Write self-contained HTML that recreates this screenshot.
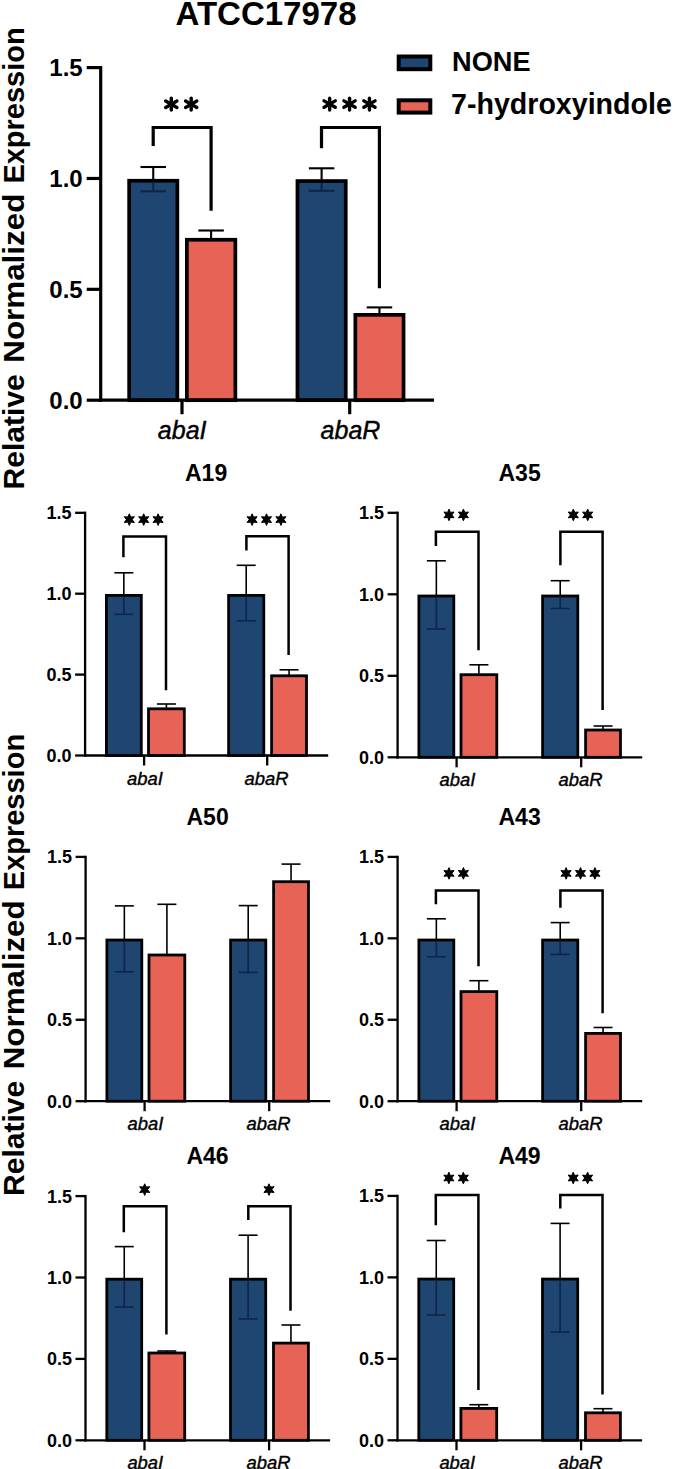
<!DOCTYPE html>
<html><head><meta charset="utf-8"><style>
html,body{margin:0;padding:0;background:#fff;}
body{width:674px;height:1469px;overflow:hidden;}
svg{display:block;font-family:"Liberation Sans",sans-serif;}
</style></head><body>
<svg width="674" height="1469" viewBox="0 0 674 1469">
<rect width="674" height="1469" fill="#fff"/>
<rect x="129.15" y="180.75" width="48.20" height="219.45" fill="#1f4571" stroke="#000" stroke-width="3.7"/>
<line x1="153.25" y1="182.60" x2="153.25" y2="191.30" stroke="#0f2548" stroke-width="2.1" stroke-linecap="butt"/>
<line x1="140.50" y1="191.30" x2="166.00" y2="191.30" stroke="#0f2548" stroke-width="2.1" stroke-linecap="butt"/>
<line x1="153.25" y1="167.00" x2="153.25" y2="179.40" stroke="#000" stroke-width="2.1" stroke-linecap="butt"/>
<line x1="140.50" y1="167.00" x2="166.00" y2="167.00" stroke="#000" stroke-width="2.1" stroke-linecap="butt"/>
<rect x="186.85" y="239.75" width="48.50" height="160.45" fill="#e66355" stroke="#000" stroke-width="3.7"/>
<line x1="211.10" y1="230.50" x2="211.10" y2="238.40" stroke="#000" stroke-width="2.1" stroke-linecap="butt"/>
<line x1="198.35" y1="230.50" x2="223.85" y2="230.50" stroke="#000" stroke-width="2.1" stroke-linecap="butt"/>
<rect x="297.45" y="181.05" width="48.30" height="219.15" fill="#1f4571" stroke="#000" stroke-width="3.7"/>
<line x1="321.60" y1="182.90" x2="321.60" y2="190.80" stroke="#0f2548" stroke-width="2.1" stroke-linecap="butt"/>
<line x1="308.85" y1="190.80" x2="334.35" y2="190.80" stroke="#0f2548" stroke-width="2.1" stroke-linecap="butt"/>
<line x1="321.60" y1="168.30" x2="321.60" y2="179.70" stroke="#000" stroke-width="2.1" stroke-linecap="butt"/>
<line x1="308.85" y1="168.30" x2="334.35" y2="168.30" stroke="#000" stroke-width="2.1" stroke-linecap="butt"/>
<rect x="355.35" y="314.85" width="48.20" height="85.35" fill="#e66355" stroke="#000" stroke-width="3.7"/>
<line x1="379.45" y1="307.40" x2="379.45" y2="313.50" stroke="#000" stroke-width="2.1" stroke-linecap="butt"/>
<line x1="366.70" y1="307.40" x2="392.20" y2="307.40" stroke="#000" stroke-width="2.1" stroke-linecap="butt"/>
<line x1="100.70" y1="66.00" x2="100.70" y2="401.80" stroke="#000" stroke-width="3.2" stroke-linecap="butt"/>
<line x1="99.10" y1="400.20" x2="434.00" y2="400.20" stroke="#000" stroke-width="3.2" stroke-linecap="butt"/>
<line x1="86.70" y1="400.20" x2="100.70" y2="400.20" stroke="#000" stroke-width="3.2" stroke-linecap="butt"/>
<text x="82.70" y="408.84" font-size="24" text-anchor="end" font-weight="bold" font-style="normal" >0.0</text>
<line x1="86.70" y1="289.33" x2="100.70" y2="289.33" stroke="#000" stroke-width="3.2" stroke-linecap="butt"/>
<text x="82.70" y="297.97" font-size="24" text-anchor="end" font-weight="bold" font-style="normal" >0.5</text>
<line x1="86.70" y1="178.47" x2="100.70" y2="178.47" stroke="#000" stroke-width="3.2" stroke-linecap="butt"/>
<text x="82.70" y="187.11" font-size="24" text-anchor="end" font-weight="bold" font-style="normal" >1.0</text>
<line x1="86.70" y1="67.60" x2="100.70" y2="67.60" stroke="#000" stroke-width="3.2" stroke-linecap="butt"/>
<text x="82.70" y="76.24" font-size="24" text-anchor="end" font-weight="bold" font-style="normal" >1.5</text>
<line x1="182.00" y1="400.20" x2="182.00" y2="414.20" stroke="#000" stroke-width="3.2" stroke-linecap="butt"/>
<line x1="349.70" y1="400.20" x2="349.70" y2="414.20" stroke="#000" stroke-width="3.2" stroke-linecap="butt"/>
<text x="182.20" y="439.00" font-size="25" text-anchor="middle" font-weight="normal" font-style="italic" stroke="#000" stroke-width="0.4">abaI</text>
<text x="350.50" y="439.00" font-size="25" text-anchor="middle" font-weight="normal" font-style="italic" stroke="#000" stroke-width="0.4">abaR</text>
<polyline points="153.20,146.00 153.20,127.50 211.10,127.50 211.10,210.80" fill="none" stroke="#000" stroke-width="3.2" stroke-linejoin="miter" stroke-linecap="butt"/>
<line x1="171.30" y1="98.30" x2="171.30" y2="110.10" stroke="#000" stroke-width="3.4" stroke-linecap="round"/>
<line x1="165.68" y1="100.95" x2="176.92" y2="107.45" stroke="#000" stroke-width="3.4" stroke-linecap="round"/>
<line x1="165.68" y1="107.45" x2="176.92" y2="100.95" stroke="#000" stroke-width="3.4" stroke-linecap="round"/>
<line x1="191.20" y1="98.30" x2="191.20" y2="110.10" stroke="#000" stroke-width="3.4" stroke-linecap="round"/>
<line x1="185.58" y1="100.95" x2="196.82" y2="107.45" stroke="#000" stroke-width="3.4" stroke-linecap="round"/>
<line x1="185.58" y1="107.45" x2="196.82" y2="100.95" stroke="#000" stroke-width="3.4" stroke-linecap="round"/>
<polyline points="321.50,148.20 321.50,127.50 379.40,127.50 379.40,288.20" fill="none" stroke="#000" stroke-width="3.2" stroke-linejoin="miter" stroke-linecap="butt"/>
<line x1="329.65" y1="98.20" x2="329.65" y2="110.00" stroke="#000" stroke-width="3.4" stroke-linecap="round"/>
<line x1="324.03" y1="100.85" x2="335.27" y2="107.34" stroke="#000" stroke-width="3.4" stroke-linecap="round"/>
<line x1="324.03" y1="107.34" x2="335.27" y2="100.85" stroke="#000" stroke-width="3.4" stroke-linecap="round"/>
<line x1="349.55" y1="98.20" x2="349.55" y2="110.00" stroke="#000" stroke-width="3.4" stroke-linecap="round"/>
<line x1="343.93" y1="100.85" x2="355.17" y2="107.34" stroke="#000" stroke-width="3.4" stroke-linecap="round"/>
<line x1="343.93" y1="107.34" x2="355.17" y2="100.85" stroke="#000" stroke-width="3.4" stroke-linecap="round"/>
<line x1="369.45" y1="98.20" x2="369.45" y2="110.00" stroke="#000" stroke-width="3.4" stroke-linecap="round"/>
<line x1="363.83" y1="100.85" x2="375.07" y2="107.34" stroke="#000" stroke-width="3.4" stroke-linecap="round"/>
<line x1="363.83" y1="107.34" x2="375.07" y2="100.85" stroke="#000" stroke-width="3.4" stroke-linecap="round"/>
<rect x="106.40" y="595.40" width="34.90" height="160.10" fill="#1f4571" stroke="#000" stroke-width="2.8"/>
<line x1="123.85" y1="596.80" x2="123.85" y2="614.30" stroke="#0f2548" stroke-width="1.6" stroke-linecap="butt"/>
<line x1="114.35" y1="614.30" x2="133.35" y2="614.30" stroke="#0f2548" stroke-width="1.6" stroke-linecap="butt"/>
<line x1="123.85" y1="572.80" x2="123.85" y2="594.50" stroke="#000" stroke-width="1.6" stroke-linecap="butt"/>
<line x1="114.35" y1="572.80" x2="133.35" y2="572.80" stroke="#000" stroke-width="1.6" stroke-linecap="butt"/>
<rect x="148.50" y="708.80" width="35.80" height="46.70" fill="#e66355" stroke="#000" stroke-width="2.8"/>
<line x1="166.40" y1="704.00" x2="166.40" y2="707.90" stroke="#000" stroke-width="1.6" stroke-linecap="butt"/>
<line x1="156.90" y1="704.00" x2="175.90" y2="704.00" stroke="#000" stroke-width="1.6" stroke-linecap="butt"/>
<rect x="228.60" y="595.40" width="35.20" height="160.10" fill="#1f4571" stroke="#000" stroke-width="2.8"/>
<line x1="246.20" y1="596.80" x2="246.20" y2="620.80" stroke="#0f2548" stroke-width="1.6" stroke-linecap="butt"/>
<line x1="236.70" y1="620.80" x2="255.70" y2="620.80" stroke="#0f2548" stroke-width="1.6" stroke-linecap="butt"/>
<line x1="246.20" y1="565.30" x2="246.20" y2="594.50" stroke="#000" stroke-width="1.6" stroke-linecap="butt"/>
<line x1="236.70" y1="565.30" x2="255.70" y2="565.30" stroke="#000" stroke-width="1.6" stroke-linecap="butt"/>
<rect x="271.60" y="675.80" width="34.90" height="79.70" fill="#e66355" stroke="#000" stroke-width="2.8"/>
<line x1="289.05" y1="669.80" x2="289.05" y2="674.90" stroke="#000" stroke-width="1.6" stroke-linecap="butt"/>
<line x1="279.55" y1="669.80" x2="298.55" y2="669.80" stroke="#000" stroke-width="1.6" stroke-linecap="butt"/>
<line x1="85.10" y1="511.65" x2="85.10" y2="756.65" stroke="#000" stroke-width="2.3" stroke-linecap="butt"/>
<line x1="83.95" y1="755.50" x2="328.20" y2="755.50" stroke="#000" stroke-width="2.3" stroke-linecap="butt"/>
<line x1="75.10" y1="755.50" x2="85.10" y2="755.50" stroke="#000" stroke-width="2.3" stroke-linecap="butt"/>
<text x="71.60" y="761.98" font-size="18" text-anchor="end" font-weight="bold" font-style="normal" >0.0</text>
<line x1="75.10" y1="674.60" x2="85.10" y2="674.60" stroke="#000" stroke-width="2.3" stroke-linecap="butt"/>
<text x="71.60" y="681.08" font-size="18" text-anchor="end" font-weight="bold" font-style="normal" >0.5</text>
<line x1="75.10" y1="593.70" x2="85.10" y2="593.70" stroke="#000" stroke-width="2.3" stroke-linecap="butt"/>
<text x="71.60" y="600.18" font-size="18" text-anchor="end" font-weight="bold" font-style="normal" >1.0</text>
<line x1="75.10" y1="512.80" x2="85.10" y2="512.80" stroke="#000" stroke-width="2.3" stroke-linecap="butt"/>
<text x="71.60" y="519.28" font-size="18" text-anchor="end" font-weight="bold" font-style="normal" >1.5</text>
<line x1="144.10" y1="755.50" x2="144.10" y2="765.50" stroke="#000" stroke-width="2.3" stroke-linecap="butt"/>
<line x1="267.20" y1="755.50" x2="267.20" y2="765.50" stroke="#000" stroke-width="2.3" stroke-linecap="butt"/>
<text x="144.90" y="784.50" font-size="18.4" text-anchor="middle" font-weight="normal" font-style="italic" stroke="#000" stroke-width="0.4">abaI</text>
<text x="266.60" y="784.50" font-size="18.4" text-anchor="middle" font-weight="normal" font-style="italic" stroke="#000" stroke-width="0.4">abaR</text>
<polyline points="123.40,557.20 123.40,536.50 166.00,536.50 166.00,690.30" fill="none" stroke="#000" stroke-width="2.5" stroke-linejoin="miter" stroke-linecap="butt"/>
<polygon points="129.30,513.80 127.85,517.09 124.28,516.70 126.40,519.60 124.28,522.50 127.85,522.11 129.30,525.40 130.75,522.11 134.32,522.50 132.20,519.60 134.32,516.70 130.75,517.09" fill="#000" stroke="#000" stroke-width="1.0" stroke-linejoin="round"/>
<polygon points="143.70,513.80 142.25,517.09 138.68,516.70 140.80,519.60 138.68,522.50 142.25,522.11 143.70,525.40 145.15,522.11 148.72,522.50 146.60,519.60 148.72,516.70 145.15,517.09" fill="#000" stroke="#000" stroke-width="1.0" stroke-linejoin="round"/>
<polygon points="158.10,513.80 156.65,517.09 153.08,516.70 155.20,519.60 153.08,522.50 156.65,522.11 158.10,525.40 159.55,522.11 163.12,522.50 161.00,519.60 163.12,516.70 159.55,517.09" fill="#000" stroke="#000" stroke-width="1.0" stroke-linejoin="round"/>
<polyline points="246.40,550.50 246.40,536.30 288.60,536.30 288.60,655.00" fill="none" stroke="#000" stroke-width="2.5" stroke-linejoin="miter" stroke-linecap="butt"/>
<polygon points="252.10,513.80 250.65,517.09 247.08,516.70 249.20,519.60 247.08,522.50 250.65,522.11 252.10,525.40 253.55,522.11 257.12,522.50 255.00,519.60 257.12,516.70 253.55,517.09" fill="#000" stroke="#000" stroke-width="1.0" stroke-linejoin="round"/>
<polygon points="266.50,513.80 265.05,517.09 261.48,516.70 263.60,519.60 261.48,522.50 265.05,522.11 266.50,525.40 267.95,522.11 271.52,522.50 269.40,519.60 271.52,516.70 267.95,517.09" fill="#000" stroke="#000" stroke-width="1.0" stroke-linejoin="round"/>
<polygon points="280.90,513.80 279.45,517.09 275.88,516.70 278.00,519.60 275.88,522.50 279.45,522.11 280.90,525.40 282.35,522.11 285.92,522.50 283.80,519.60 285.92,516.70 282.35,517.09" fill="#000" stroke="#000" stroke-width="1.0" stroke-linejoin="round"/>
<text x="206.10" y="480.80" font-size="23" text-anchor="middle" font-weight="bold" font-style="normal" >A19</text>
<rect x="418.90" y="596.00" width="34.90" height="161.30" fill="#1f4571" stroke="#000" stroke-width="2.8"/>
<line x1="436.35" y1="597.40" x2="436.35" y2="629.00" stroke="#0f2548" stroke-width="1.6" stroke-linecap="butt"/>
<line x1="426.85" y1="629.00" x2="445.85" y2="629.00" stroke="#0f2548" stroke-width="1.6" stroke-linecap="butt"/>
<line x1="436.35" y1="560.80" x2="436.35" y2="595.10" stroke="#000" stroke-width="1.6" stroke-linecap="butt"/>
<line x1="426.85" y1="560.80" x2="445.85" y2="560.80" stroke="#000" stroke-width="1.6" stroke-linecap="butt"/>
<rect x="461.00" y="674.70" width="35.80" height="82.60" fill="#e66355" stroke="#000" stroke-width="2.8"/>
<line x1="478.90" y1="664.80" x2="478.90" y2="673.80" stroke="#000" stroke-width="1.6" stroke-linecap="butt"/>
<line x1="469.40" y1="664.80" x2="488.40" y2="664.80" stroke="#000" stroke-width="1.6" stroke-linecap="butt"/>
<rect x="542.60" y="596.00" width="35.20" height="161.30" fill="#1f4571" stroke="#000" stroke-width="2.8"/>
<line x1="560.20" y1="597.40" x2="560.20" y2="608.50" stroke="#0f2548" stroke-width="1.6" stroke-linecap="butt"/>
<line x1="550.70" y1="608.50" x2="569.70" y2="608.50" stroke="#0f2548" stroke-width="1.6" stroke-linecap="butt"/>
<line x1="560.20" y1="580.70" x2="560.20" y2="595.10" stroke="#000" stroke-width="1.6" stroke-linecap="butt"/>
<line x1="550.70" y1="580.70" x2="569.70" y2="580.70" stroke="#000" stroke-width="1.6" stroke-linecap="butt"/>
<rect x="585.60" y="730.00" width="34.90" height="27.30" fill="#e66355" stroke="#000" stroke-width="2.8"/>
<line x1="603.05" y1="726.00" x2="603.05" y2="729.10" stroke="#000" stroke-width="1.6" stroke-linecap="butt"/>
<line x1="593.55" y1="726.00" x2="612.55" y2="726.00" stroke="#000" stroke-width="1.6" stroke-linecap="butt"/>
<line x1="397.60" y1="511.65" x2="397.60" y2="758.45" stroke="#000" stroke-width="2.3" stroke-linecap="butt"/>
<line x1="396.45" y1="757.30" x2="642.20" y2="757.30" stroke="#000" stroke-width="2.3" stroke-linecap="butt"/>
<line x1="387.60" y1="757.30" x2="397.60" y2="757.30" stroke="#000" stroke-width="2.3" stroke-linecap="butt"/>
<text x="384.10" y="763.78" font-size="18" text-anchor="end" font-weight="bold" font-style="normal" >0.0</text>
<line x1="387.60" y1="675.80" x2="397.60" y2="675.80" stroke="#000" stroke-width="2.3" stroke-linecap="butt"/>
<text x="384.10" y="682.28" font-size="18" text-anchor="end" font-weight="bold" font-style="normal" >0.5</text>
<line x1="387.60" y1="594.30" x2="397.60" y2="594.30" stroke="#000" stroke-width="2.3" stroke-linecap="butt"/>
<text x="384.10" y="600.78" font-size="18" text-anchor="end" font-weight="bold" font-style="normal" >1.0</text>
<line x1="387.60" y1="512.80" x2="397.60" y2="512.80" stroke="#000" stroke-width="2.3" stroke-linecap="butt"/>
<text x="384.10" y="519.28" font-size="18" text-anchor="end" font-weight="bold" font-style="normal" >1.5</text>
<line x1="456.60" y1="757.30" x2="456.60" y2="767.30" stroke="#000" stroke-width="2.3" stroke-linecap="butt"/>
<line x1="581.20" y1="757.30" x2="581.20" y2="767.30" stroke="#000" stroke-width="2.3" stroke-linecap="butt"/>
<text x="457.40" y="786.30" font-size="18.4" text-anchor="middle" font-weight="normal" font-style="italic" stroke="#000" stroke-width="0.4">abaI</text>
<text x="580.60" y="786.30" font-size="18.4" text-anchor="middle" font-weight="normal" font-style="italic" stroke="#000" stroke-width="0.4">abaR</text>
<polyline points="435.90,546.00 435.90,531.80 478.50,531.80 478.50,650.20" fill="none" stroke="#000" stroke-width="2.5" stroke-linejoin="miter" stroke-linecap="butt"/>
<polygon points="449.00,509.10 447.55,512.39 443.98,512.00 446.10,514.90 443.98,517.80 447.55,517.41 449.00,520.70 450.45,517.41 454.02,517.80 451.90,514.90 454.02,512.00 450.45,512.39" fill="#000" stroke="#000" stroke-width="1.0" stroke-linejoin="round"/>
<polygon points="463.40,509.10 461.95,512.39 458.38,512.00 460.50,514.90 458.38,517.80 461.95,517.41 463.40,520.70 464.85,517.41 468.42,517.80 466.30,514.90 468.42,512.00 464.85,512.39" fill="#000" stroke="#000" stroke-width="1.0" stroke-linejoin="round"/>
<polyline points="560.40,565.20 560.40,531.80 602.60,531.80 602.60,710.00" fill="none" stroke="#000" stroke-width="2.5" stroke-linejoin="miter" stroke-linecap="butt"/>
<polygon points="573.30,509.10 571.85,512.39 568.28,512.00 570.40,514.90 568.28,517.80 571.85,517.41 573.30,520.70 574.75,517.41 578.32,517.80 576.20,514.90 578.32,512.00 574.75,512.39" fill="#000" stroke="#000" stroke-width="1.0" stroke-linejoin="round"/>
<polygon points="587.70,509.10 586.25,512.39 582.68,512.00 584.80,514.90 582.68,517.80 586.25,517.41 587.70,520.70 589.15,517.41 592.72,517.80 590.60,514.90 592.72,512.00 589.15,512.39" fill="#000" stroke="#000" stroke-width="1.0" stroke-linejoin="round"/>
<text x="519.60" y="480.80" font-size="23" text-anchor="middle" font-weight="bold" font-style="normal" >A35</text>
<rect x="106.90" y="940.03" width="34.90" height="161.17" fill="#1f4571" stroke="#000" stroke-width="2.8"/>
<line x1="124.35" y1="941.43" x2="124.35" y2="971.80" stroke="#0f2548" stroke-width="1.6" stroke-linecap="butt"/>
<line x1="114.85" y1="971.80" x2="133.85" y2="971.80" stroke="#0f2548" stroke-width="1.6" stroke-linecap="butt"/>
<line x1="124.35" y1="905.90" x2="124.35" y2="939.13" stroke="#000" stroke-width="1.6" stroke-linecap="butt"/>
<line x1="114.85" y1="905.90" x2="133.85" y2="905.90" stroke="#000" stroke-width="1.6" stroke-linecap="butt"/>
<rect x="149.00" y="955.00" width="35.80" height="146.20" fill="#e66355" stroke="#000" stroke-width="2.8"/>
<line x1="166.90" y1="904.30" x2="166.90" y2="954.10" stroke="#000" stroke-width="1.6" stroke-linecap="butt"/>
<line x1="157.40" y1="904.30" x2="176.40" y2="904.30" stroke="#000" stroke-width="1.6" stroke-linecap="butt"/>
<rect x="230.60" y="940.03" width="35.20" height="161.17" fill="#1f4571" stroke="#000" stroke-width="2.8"/>
<line x1="248.20" y1="941.43" x2="248.20" y2="972.40" stroke="#0f2548" stroke-width="1.6" stroke-linecap="butt"/>
<line x1="238.70" y1="972.40" x2="257.70" y2="972.40" stroke="#0f2548" stroke-width="1.6" stroke-linecap="butt"/>
<line x1="248.20" y1="905.60" x2="248.20" y2="939.13" stroke="#000" stroke-width="1.6" stroke-linecap="butt"/>
<line x1="238.70" y1="905.60" x2="257.70" y2="905.60" stroke="#000" stroke-width="1.6" stroke-linecap="butt"/>
<rect x="273.60" y="881.70" width="34.90" height="219.50" fill="#e66355" stroke="#000" stroke-width="2.8"/>
<line x1="291.05" y1="864.10" x2="291.05" y2="880.80" stroke="#000" stroke-width="1.6" stroke-linecap="butt"/>
<line x1="281.55" y1="864.10" x2="300.55" y2="864.10" stroke="#000" stroke-width="1.6" stroke-linecap="butt"/>
<line x1="85.60" y1="855.75" x2="85.60" y2="1102.35" stroke="#000" stroke-width="2.3" stroke-linecap="butt"/>
<line x1="84.45" y1="1101.20" x2="330.20" y2="1101.20" stroke="#000" stroke-width="2.3" stroke-linecap="butt"/>
<line x1="75.60" y1="1101.20" x2="85.60" y2="1101.20" stroke="#000" stroke-width="2.3" stroke-linecap="butt"/>
<text x="72.10" y="1107.68" font-size="18" text-anchor="end" font-weight="bold" font-style="normal" >0.0</text>
<line x1="75.60" y1="1019.77" x2="85.60" y2="1019.77" stroke="#000" stroke-width="2.3" stroke-linecap="butt"/>
<text x="72.10" y="1026.25" font-size="18" text-anchor="end" font-weight="bold" font-style="normal" >0.5</text>
<line x1="75.60" y1="938.33" x2="85.60" y2="938.33" stroke="#000" stroke-width="2.3" stroke-linecap="butt"/>
<text x="72.10" y="944.81" font-size="18" text-anchor="end" font-weight="bold" font-style="normal" >1.0</text>
<line x1="75.60" y1="856.90" x2="85.60" y2="856.90" stroke="#000" stroke-width="2.3" stroke-linecap="butt"/>
<text x="72.10" y="863.38" font-size="18" text-anchor="end" font-weight="bold" font-style="normal" >1.5</text>
<line x1="144.60" y1="1101.20" x2="144.60" y2="1111.20" stroke="#000" stroke-width="2.3" stroke-linecap="butt"/>
<line x1="269.20" y1="1101.20" x2="269.20" y2="1111.20" stroke="#000" stroke-width="2.3" stroke-linecap="butt"/>
<text x="145.40" y="1130.20" font-size="18.4" text-anchor="middle" font-weight="normal" font-style="italic" stroke="#000" stroke-width="0.4">abaI</text>
<text x="268.60" y="1130.20" font-size="18.4" text-anchor="middle" font-weight="normal" font-style="italic" stroke="#000" stroke-width="0.4">abaR</text>
<text x="207.60" y="824.60" font-size="23" text-anchor="middle" font-weight="bold" font-style="normal" >A50</text>
<rect x="418.90" y="940.03" width="34.90" height="161.17" fill="#1f4571" stroke="#000" stroke-width="2.8"/>
<line x1="436.35" y1="941.43" x2="436.35" y2="956.80" stroke="#0f2548" stroke-width="1.6" stroke-linecap="butt"/>
<line x1="426.85" y1="956.80" x2="445.85" y2="956.80" stroke="#0f2548" stroke-width="1.6" stroke-linecap="butt"/>
<line x1="436.35" y1="918.80" x2="436.35" y2="939.13" stroke="#000" stroke-width="1.6" stroke-linecap="butt"/>
<line x1="426.85" y1="918.80" x2="445.85" y2="918.80" stroke="#000" stroke-width="1.6" stroke-linecap="butt"/>
<rect x="461.00" y="991.60" width="35.80" height="109.60" fill="#e66355" stroke="#000" stroke-width="2.8"/>
<line x1="478.90" y1="980.70" x2="478.90" y2="990.70" stroke="#000" stroke-width="1.6" stroke-linecap="butt"/>
<line x1="469.40" y1="980.70" x2="488.40" y2="980.70" stroke="#000" stroke-width="1.6" stroke-linecap="butt"/>
<rect x="542.60" y="940.03" width="35.20" height="161.17" fill="#1f4571" stroke="#000" stroke-width="2.8"/>
<line x1="560.20" y1="941.43" x2="560.20" y2="954.40" stroke="#0f2548" stroke-width="1.6" stroke-linecap="butt"/>
<line x1="550.70" y1="954.40" x2="569.70" y2="954.40" stroke="#0f2548" stroke-width="1.6" stroke-linecap="butt"/>
<line x1="560.20" y1="922.60" x2="560.20" y2="939.13" stroke="#000" stroke-width="1.6" stroke-linecap="butt"/>
<line x1="550.70" y1="922.60" x2="569.70" y2="922.60" stroke="#000" stroke-width="1.6" stroke-linecap="butt"/>
<rect x="585.60" y="1033.40" width="34.90" height="67.80" fill="#e66355" stroke="#000" stroke-width="2.8"/>
<line x1="603.05" y1="1027.50" x2="603.05" y2="1032.50" stroke="#000" stroke-width="1.6" stroke-linecap="butt"/>
<line x1="593.55" y1="1027.50" x2="612.55" y2="1027.50" stroke="#000" stroke-width="1.6" stroke-linecap="butt"/>
<line x1="397.60" y1="855.75" x2="397.60" y2="1102.35" stroke="#000" stroke-width="2.3" stroke-linecap="butt"/>
<line x1="396.45" y1="1101.20" x2="642.20" y2="1101.20" stroke="#000" stroke-width="2.3" stroke-linecap="butt"/>
<line x1="387.60" y1="1101.20" x2="397.60" y2="1101.20" stroke="#000" stroke-width="2.3" stroke-linecap="butt"/>
<text x="384.10" y="1107.68" font-size="18" text-anchor="end" font-weight="bold" font-style="normal" >0.0</text>
<line x1="387.60" y1="1019.77" x2="397.60" y2="1019.77" stroke="#000" stroke-width="2.3" stroke-linecap="butt"/>
<text x="384.10" y="1026.25" font-size="18" text-anchor="end" font-weight="bold" font-style="normal" >0.5</text>
<line x1="387.60" y1="938.33" x2="397.60" y2="938.33" stroke="#000" stroke-width="2.3" stroke-linecap="butt"/>
<text x="384.10" y="944.81" font-size="18" text-anchor="end" font-weight="bold" font-style="normal" >1.0</text>
<line x1="387.60" y1="856.90" x2="397.60" y2="856.90" stroke="#000" stroke-width="2.3" stroke-linecap="butt"/>
<text x="384.10" y="863.38" font-size="18" text-anchor="end" font-weight="bold" font-style="normal" >1.5</text>
<line x1="456.60" y1="1101.20" x2="456.60" y2="1111.20" stroke="#000" stroke-width="2.3" stroke-linecap="butt"/>
<line x1="581.20" y1="1101.20" x2="581.20" y2="1111.20" stroke="#000" stroke-width="2.3" stroke-linecap="butt"/>
<text x="457.40" y="1130.20" font-size="18.4" text-anchor="middle" font-weight="normal" font-style="italic" stroke="#000" stroke-width="0.4">abaI</text>
<text x="580.60" y="1130.20" font-size="18.4" text-anchor="middle" font-weight="normal" font-style="italic" stroke="#000" stroke-width="0.4">abaR</text>
<polyline points="435.90,904.30 435.90,890.40 478.50,890.40 478.50,966.30" fill="none" stroke="#000" stroke-width="2.5" stroke-linejoin="miter" stroke-linecap="butt"/>
<polygon points="449.00,867.60 447.55,870.89 443.98,870.50 446.10,873.40 443.98,876.30 447.55,875.91 449.00,879.20 450.45,875.91 454.02,876.30 451.90,873.40 454.02,870.50 450.45,870.89" fill="#000" stroke="#000" stroke-width="1.0" stroke-linejoin="round"/>
<polygon points="463.40,867.60 461.95,870.89 458.38,870.50 460.50,873.40 458.38,876.30 461.95,875.91 463.40,879.20 464.85,875.91 468.42,876.30 466.30,873.40 468.42,870.50 464.85,870.89" fill="#000" stroke="#000" stroke-width="1.0" stroke-linejoin="round"/>
<polyline points="560.40,907.70 560.40,890.40 602.60,890.40 602.60,1013.30" fill="none" stroke="#000" stroke-width="2.5" stroke-linejoin="miter" stroke-linecap="butt"/>
<polygon points="566.10,867.60 564.65,870.89 561.08,870.50 563.20,873.40 561.08,876.30 564.65,875.91 566.10,879.20 567.55,875.91 571.12,876.30 569.00,873.40 571.12,870.50 567.55,870.89" fill="#000" stroke="#000" stroke-width="1.0" stroke-linejoin="round"/>
<polygon points="580.50,867.60 579.05,870.89 575.48,870.50 577.60,873.40 575.48,876.30 579.05,875.91 580.50,879.20 581.95,875.91 585.52,876.30 583.40,873.40 585.52,870.50 581.95,870.89" fill="#000" stroke="#000" stroke-width="1.0" stroke-linejoin="round"/>
<polygon points="594.90,867.60 593.45,870.89 589.88,870.50 592.00,873.40 589.88,876.30 593.45,875.91 594.90,879.20 596.35,875.91 599.92,876.30 597.80,873.40 599.92,870.50 596.35,870.89" fill="#000" stroke="#000" stroke-width="1.0" stroke-linejoin="round"/>
<text x="519.60" y="824.60" font-size="23" text-anchor="middle" font-weight="bold" font-style="normal" >A43</text>
<rect x="106.80" y="1279.20" width="34.90" height="161.10" fill="#1f4571" stroke="#000" stroke-width="2.8"/>
<line x1="124.25" y1="1280.60" x2="124.25" y2="1307.10" stroke="#0f2548" stroke-width="1.6" stroke-linecap="butt"/>
<line x1="114.75" y1="1307.10" x2="133.75" y2="1307.10" stroke="#0f2548" stroke-width="1.6" stroke-linecap="butt"/>
<line x1="124.25" y1="1246.60" x2="124.25" y2="1278.30" stroke="#000" stroke-width="1.6" stroke-linecap="butt"/>
<line x1="114.75" y1="1246.60" x2="133.75" y2="1246.60" stroke="#000" stroke-width="1.6" stroke-linecap="butt"/>
<rect x="148.90" y="1353.00" width="35.80" height="87.30" fill="#e66355" stroke="#000" stroke-width="2.8"/>
<line x1="166.80" y1="1351.00" x2="166.80" y2="1352.10" stroke="#000" stroke-width="1.6" stroke-linecap="butt"/>
<line x1="157.30" y1="1351.00" x2="176.30" y2="1351.00" stroke="#000" stroke-width="1.6" stroke-linecap="butt"/>
<rect x="230.50" y="1279.20" width="35.20" height="161.10" fill="#1f4571" stroke="#000" stroke-width="2.8"/>
<line x1="248.10" y1="1280.60" x2="248.10" y2="1318.90" stroke="#0f2548" stroke-width="1.6" stroke-linecap="butt"/>
<line x1="238.60" y1="1318.90" x2="257.60" y2="1318.90" stroke="#0f2548" stroke-width="1.6" stroke-linecap="butt"/>
<line x1="248.10" y1="1235.20" x2="248.10" y2="1278.30" stroke="#000" stroke-width="1.6" stroke-linecap="butt"/>
<line x1="238.60" y1="1235.20" x2="257.60" y2="1235.20" stroke="#000" stroke-width="1.6" stroke-linecap="butt"/>
<rect x="273.50" y="1343.10" width="34.90" height="97.20" fill="#e66355" stroke="#000" stroke-width="2.8"/>
<line x1="290.95" y1="1325.00" x2="290.95" y2="1342.20" stroke="#000" stroke-width="1.6" stroke-linecap="butt"/>
<line x1="281.45" y1="1325.00" x2="300.45" y2="1325.00" stroke="#000" stroke-width="1.6" stroke-linecap="butt"/>
<line x1="85.50" y1="1194.95" x2="85.50" y2="1441.45" stroke="#000" stroke-width="2.3" stroke-linecap="butt"/>
<line x1="84.35" y1="1440.30" x2="330.10" y2="1440.30" stroke="#000" stroke-width="2.3" stroke-linecap="butt"/>
<line x1="75.50" y1="1440.30" x2="85.50" y2="1440.30" stroke="#000" stroke-width="2.3" stroke-linecap="butt"/>
<text x="72.00" y="1446.78" font-size="18" text-anchor="end" font-weight="bold" font-style="normal" >0.0</text>
<line x1="75.50" y1="1358.90" x2="85.50" y2="1358.90" stroke="#000" stroke-width="2.3" stroke-linecap="butt"/>
<text x="72.00" y="1365.38" font-size="18" text-anchor="end" font-weight="bold" font-style="normal" >0.5</text>
<line x1="75.50" y1="1277.50" x2="85.50" y2="1277.50" stroke="#000" stroke-width="2.3" stroke-linecap="butt"/>
<text x="72.00" y="1283.98" font-size="18" text-anchor="end" font-weight="bold" font-style="normal" >1.0</text>
<line x1="75.50" y1="1196.10" x2="85.50" y2="1196.10" stroke="#000" stroke-width="2.3" stroke-linecap="butt"/>
<text x="72.00" y="1202.58" font-size="18" text-anchor="end" font-weight="bold" font-style="normal" >1.5</text>
<line x1="144.50" y1="1440.30" x2="144.50" y2="1450.30" stroke="#000" stroke-width="2.3" stroke-linecap="butt"/>
<line x1="269.10" y1="1440.30" x2="269.10" y2="1450.30" stroke="#000" stroke-width="2.3" stroke-linecap="butt"/>
<text x="145.30" y="1469.30" font-size="18.4" text-anchor="middle" font-weight="normal" font-style="italic" stroke="#000" stroke-width="0.4">abaI</text>
<text x="268.50" y="1469.30" font-size="18.4" text-anchor="middle" font-weight="normal" font-style="italic" stroke="#000" stroke-width="0.4">abaR</text>
<polyline points="123.80,1232.30 123.80,1206.30 166.40,1206.30 166.40,1334.50" fill="none" stroke="#000" stroke-width="2.5" stroke-linejoin="miter" stroke-linecap="butt"/>
<polygon points="144.70,1183.80 143.25,1187.09 139.68,1186.70 141.80,1189.60 139.68,1192.50 143.25,1192.11 144.70,1195.40 146.15,1192.11 149.72,1192.50 147.60,1189.60 149.72,1186.70 146.15,1187.09" fill="#000" stroke="#000" stroke-width="1.0" stroke-linejoin="round"/>
<polyline points="248.30,1219.90 248.30,1206.30 290.50,1206.30 290.50,1310.70" fill="none" stroke="#000" stroke-width="2.5" stroke-linejoin="miter" stroke-linecap="butt"/>
<polygon points="269.00,1183.80 267.55,1187.09 263.98,1186.70 266.10,1189.60 263.98,1192.50 267.55,1192.11 269.00,1195.40 270.45,1192.11 274.02,1192.50 271.90,1189.60 274.02,1186.70 270.45,1187.09" fill="#000" stroke="#000" stroke-width="1.0" stroke-linejoin="round"/>
<text x="207.50" y="1163.70" font-size="23" text-anchor="middle" font-weight="bold" font-style="normal" >A46</text>
<rect x="418.80" y="1279.07" width="34.90" height="161.23" fill="#1f4571" stroke="#000" stroke-width="2.8"/>
<line x1="436.25" y1="1280.47" x2="436.25" y2="1315.00" stroke="#0f2548" stroke-width="1.6" stroke-linecap="butt"/>
<line x1="426.75" y1="1315.00" x2="445.75" y2="1315.00" stroke="#0f2548" stroke-width="1.6" stroke-linecap="butt"/>
<line x1="436.25" y1="1240.50" x2="436.25" y2="1278.17" stroke="#000" stroke-width="1.6" stroke-linecap="butt"/>
<line x1="426.75" y1="1240.50" x2="445.75" y2="1240.50" stroke="#000" stroke-width="1.6" stroke-linecap="butt"/>
<rect x="460.90" y="1408.40" width="35.80" height="31.90" fill="#e66355" stroke="#000" stroke-width="2.8"/>
<line x1="478.80" y1="1404.70" x2="478.80" y2="1407.50" stroke="#000" stroke-width="1.6" stroke-linecap="butt"/>
<line x1="469.30" y1="1404.70" x2="488.30" y2="1404.70" stroke="#000" stroke-width="1.6" stroke-linecap="butt"/>
<rect x="542.50" y="1279.07" width="35.20" height="161.23" fill="#1f4571" stroke="#000" stroke-width="2.8"/>
<line x1="560.10" y1="1280.47" x2="560.10" y2="1332.00" stroke="#0f2548" stroke-width="1.6" stroke-linecap="butt"/>
<line x1="550.60" y1="1332.00" x2="569.60" y2="1332.00" stroke="#0f2548" stroke-width="1.6" stroke-linecap="butt"/>
<line x1="560.10" y1="1223.40" x2="560.10" y2="1278.17" stroke="#000" stroke-width="1.6" stroke-linecap="butt"/>
<line x1="550.60" y1="1223.40" x2="569.60" y2="1223.40" stroke="#000" stroke-width="1.6" stroke-linecap="butt"/>
<rect x="585.50" y="1412.80" width="34.90" height="27.50" fill="#e66355" stroke="#000" stroke-width="2.8"/>
<line x1="602.95" y1="1408.70" x2="602.95" y2="1411.90" stroke="#000" stroke-width="1.6" stroke-linecap="butt"/>
<line x1="593.45" y1="1408.70" x2="612.45" y2="1408.70" stroke="#000" stroke-width="1.6" stroke-linecap="butt"/>
<line x1="397.50" y1="1194.75" x2="397.50" y2="1441.45" stroke="#000" stroke-width="2.3" stroke-linecap="butt"/>
<line x1="396.35" y1="1440.30" x2="642.10" y2="1440.30" stroke="#000" stroke-width="2.3" stroke-linecap="butt"/>
<line x1="387.50" y1="1440.30" x2="397.50" y2="1440.30" stroke="#000" stroke-width="2.3" stroke-linecap="butt"/>
<text x="384.00" y="1446.78" font-size="18" text-anchor="end" font-weight="bold" font-style="normal" >0.0</text>
<line x1="387.50" y1="1358.83" x2="397.50" y2="1358.83" stroke="#000" stroke-width="2.3" stroke-linecap="butt"/>
<text x="384.00" y="1365.31" font-size="18" text-anchor="end" font-weight="bold" font-style="normal" >0.5</text>
<line x1="387.50" y1="1277.37" x2="397.50" y2="1277.37" stroke="#000" stroke-width="2.3" stroke-linecap="butt"/>
<text x="384.00" y="1283.85" font-size="18" text-anchor="end" font-weight="bold" font-style="normal" >1.0</text>
<line x1="387.50" y1="1195.90" x2="397.50" y2="1195.90" stroke="#000" stroke-width="2.3" stroke-linecap="butt"/>
<text x="384.00" y="1202.38" font-size="18" text-anchor="end" font-weight="bold" font-style="normal" >1.5</text>
<line x1="456.50" y1="1440.30" x2="456.50" y2="1450.30" stroke="#000" stroke-width="2.3" stroke-linecap="butt"/>
<line x1="581.10" y1="1440.30" x2="581.10" y2="1450.30" stroke="#000" stroke-width="2.3" stroke-linecap="butt"/>
<text x="457.30" y="1469.30" font-size="18.4" text-anchor="middle" font-weight="normal" font-style="italic" stroke="#000" stroke-width="0.4">abaI</text>
<text x="580.50" y="1469.30" font-size="18.4" text-anchor="middle" font-weight="normal" font-style="italic" stroke="#000" stroke-width="0.4">abaR</text>
<polyline points="435.80,1225.20 435.80,1195.00 478.40,1195.00 478.40,1390.00" fill="none" stroke="#000" stroke-width="2.5" stroke-linejoin="miter" stroke-linecap="butt"/>
<polygon points="448.90,1172.20 447.45,1175.49 443.88,1175.10 446.00,1178.00 443.88,1180.90 447.45,1180.51 448.90,1183.80 450.35,1180.51 453.92,1180.90 451.80,1178.00 453.92,1175.10 450.35,1175.49" fill="#000" stroke="#000" stroke-width="1.0" stroke-linejoin="round"/>
<polygon points="463.30,1172.20 461.85,1175.49 458.28,1175.10 460.40,1178.00 458.28,1180.90 461.85,1180.51 463.30,1183.80 464.75,1180.51 468.32,1180.90 466.20,1178.00 468.32,1175.10 464.75,1175.49" fill="#000" stroke="#000" stroke-width="1.0" stroke-linejoin="round"/>
<polyline points="560.30,1208.50 560.30,1195.00 602.50,1195.00 602.50,1394.40" fill="none" stroke="#000" stroke-width="2.5" stroke-linejoin="miter" stroke-linecap="butt"/>
<polygon points="573.20,1172.20 571.75,1175.49 568.18,1175.10 570.30,1178.00 568.18,1180.90 571.75,1180.51 573.20,1183.80 574.65,1180.51 578.22,1180.90 576.10,1178.00 578.22,1175.10 574.65,1175.49" fill="#000" stroke="#000" stroke-width="1.0" stroke-linejoin="round"/>
<polygon points="587.60,1172.20 586.15,1175.49 582.58,1175.10 584.70,1178.00 582.58,1180.90 586.15,1180.51 587.60,1183.80 589.05,1180.51 592.62,1180.90 590.50,1178.00 592.62,1175.10 589.05,1175.49" fill="#000" stroke="#000" stroke-width="1.0" stroke-linejoin="round"/>
<text x="519.50" y="1163.70" font-size="23" text-anchor="middle" font-weight="bold" font-style="normal" >A49</text>
<text x="266.00" y="25.30" font-size="33" text-anchor="middle" font-weight="bold" font-style="normal" >ATCC17978</text>
<rect x="398.7" y="56.5" width="31.6" height="12.7" fill="#1f4571" stroke="#000" stroke-width="4"/>
<rect x="398.7" y="100.3" width="31.6" height="12.3" fill="#e66355" stroke="#000" stroke-width="4"/>
<text x="452.00" y="71.40" font-size="27.2" text-anchor="start" font-weight="bold" font-style="normal" >NONE</text>
<text x="451.00" y="113.80" font-size="28.6" text-anchor="start" font-weight="bold" font-style="normal" >7-hydroxyindole</text>
<text transform="translate(24.1,489.4) rotate(-90)" x="0" y="0" font-size="29.3" textLength="115.2" lengthAdjust="spacingAndGlyphs" font-weight="bold">Relative</text>
<text transform="translate(24.1,489.4) rotate(-90)" x="126.7" y="0" font-size="29.3" textLength="169.0" lengthAdjust="spacingAndGlyphs" font-weight="bold">Normalized</text>
<text transform="translate(24.1,489.4) rotate(-90)" x="305.8" y="0" font-size="29.3" textLength="156.3" lengthAdjust="spacingAndGlyphs" font-weight="bold">Expression</text>
<text transform="translate(24.1,1196.0) rotate(-90)" x="0" y="0" font-size="29.3" textLength="115.2" lengthAdjust="spacingAndGlyphs" font-weight="bold">Relative</text>
<text transform="translate(24.1,1196.0) rotate(-90)" x="126.7" y="0" font-size="29.3" textLength="169.0" lengthAdjust="spacingAndGlyphs" font-weight="bold">Normalized</text>
<text transform="translate(24.1,1196.0) rotate(-90)" x="305.8" y="0" font-size="29.3" textLength="156.3" lengthAdjust="spacingAndGlyphs" font-weight="bold">Expression</text>
</svg></body></html>
